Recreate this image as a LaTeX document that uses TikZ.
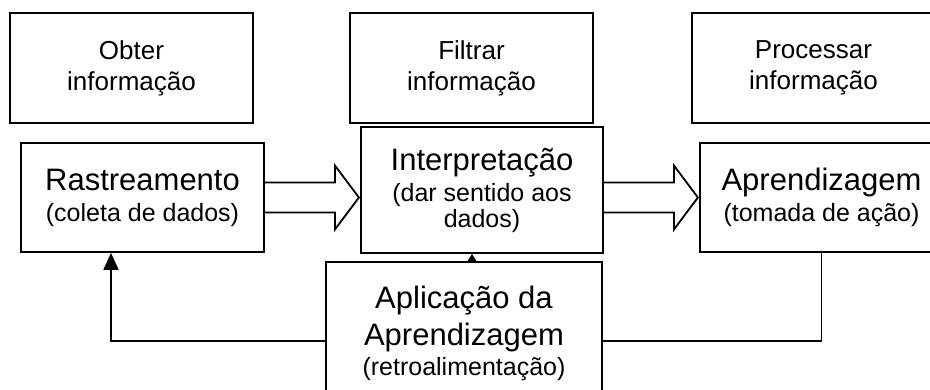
\documentclass[tikz,border=0pt]{standalone}
\usepackage{fontspec}
\setmainfont{Liberation Sans}
\usetikzlibrary{arrows.meta}

\newcommand{\titulo}{\fontsize{31}{36}\selectfont}
\newcommand{\subtitulo}{\fontsize{25}{28}\selectfont}
\newcommand{\topo}{\fontsize{26}{31}\selectfont}

\begin{document}
\begin{tikzpicture}[x=1pt, y=-1pt,
  caixa/.style={draw, line width=1.8pt, inner sep=0pt, align=center, font=\subtitulo},
  seta/.style={line width=1.8pt, line join=miter}]

  \clip (0,0) rectangle (930,389);

  % linha de cima
	\node[caixa, minimum width=243, minimum height=110, font=\topo] (obter) at (131.5,68) {Obter\\informação};
	\node[caixa, minimum width=243, minimum height=110, font=\topo] (filtrar) at (471.5,68) {Filtrar\\informação};
	\node[caixa, minimum width=243, minimum height=110, font=\topo] (proc) at (813.5,68) {Processar\\informação};

  % etapas
	\node[caixa, minimum width=243, minimum height=109] (rast) at (142.5,197.5) {\titulo Rastreamento\\[3pt](coleta de dados)};
	\node[caixa, minimum width=242, minimum height=126] (interp) at (482,190) {\titulo Interpretação\\[3pt](dar sentido aos\\[-2pt]dados)};
	\node[caixa, minimum width=243, minimum height=109] (aprend) at (821.5,197.5) {\titulo Aprendizagem\\[3pt](tomada de ação)};
	\node[caixa, minimum width=276, minimum height=143] (aplic) at (464,333.5) {\titulo Aplicação da\\[7pt]\titulo Aprendizagem\\[2pt](retroalimentação)};

  % setas largas
	\draw[seta] (rast.east) ++(0,-15) -- ++(70,0) -- ++(0,-17) -- ++(24,32) -- ++(-24,32) -- ++(0,-17) -- ++(-70,0);
	\draw[seta] (interp.east |- rast.east) ++(0,-15) -- ++(70,0) -- ++(0,-17) -- ++(24,32) -- ++(-24,32) -- ++(0,-17) -- ++(-70,0);

  % retroalimentacao
	\coordinate (volta) at (111,341);
	\draw[seta] (aprend.south) |- (aplic.east |- volta);
	\draw[seta, -{Triangle[length=17,width=15]}] (aplic.west |- volta) -- (volta) -- (rast.south -| volta);
	\draw[seta, -{Triangle[length=7,width=8]}] (aplic.north -| 472,0) -- (interp.south -| 472,0);

\end{tikzpicture}
\end{document}
